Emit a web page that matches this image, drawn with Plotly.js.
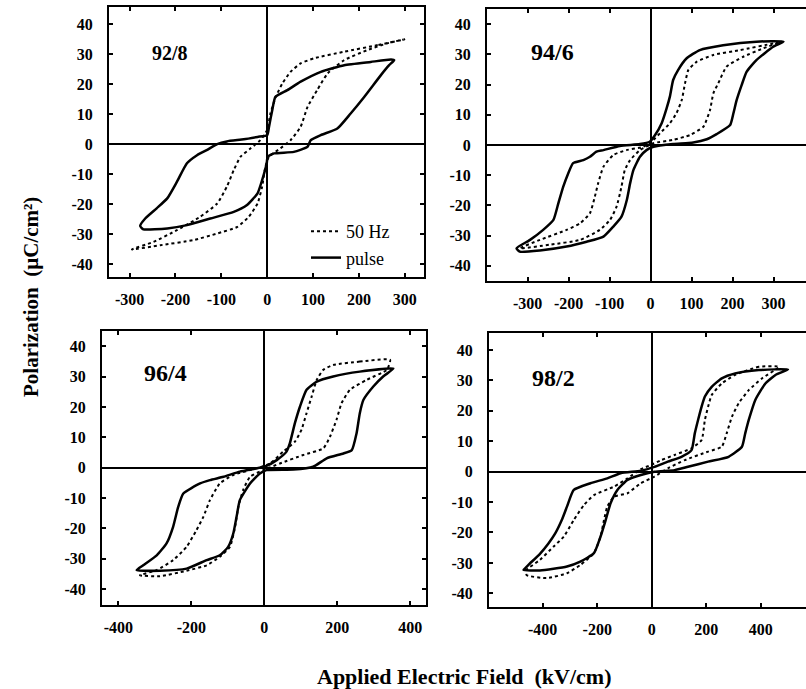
<!DOCTYPE html>
<html><head><meta charset="utf-8">
<script src="https://cdn.plot.ly/plotly-3.0.1.min.js"></script>
<style>html,body{margin:0;padding:0;background:#fff}#chart{width:806px;height:689px}</style>
</head><body><div id="chart"></div>
<script>
// ---------- data ----------
const compositions = ['92/8', '94/6', '96/4', '98/2'];
const seriesNames = ['50 Hz', 'pulse'];
const yTickVals = [-40, -30, -20, -10, 0, 10, 20, 30, 40];
const yTickText = ['-40', '-30', '-20', '-10', '0', '10', '20', '30', '40'];
const xTickVals300 = [-300, -200, -100, 0, 100, 200, 300];
const xTickText300 = ['-300', '-200', '-100', '0', '100', '200', '300'];
const xTickVals400 = [-400, -200, 0, 200, 400];
const xTickText400 = ['-400', '-200', '0', '200', '400'];

// 92/8
const e928_50Hz = [299, 241, 168, 102, 73, 51, 33, 19, 7, 0, -15, -36, -58, -73, -88, -109, -146, -197, -248, -295,
  -233, -161, -109, -65, -40, -21, -11, -4, 4, 29, 51, 73, 88, 109, 132, 168, 218, 262, 299];
const p928_50Hz = [34.9, 33, 30.8, 28.6, 26.9, 24.1, 20.2, 15.8, 10.2, 4.7, 1.3, -1.4, -4.2, -8.7, -14.2, -19.8, -24.2, -28.7, -32.6, -35.1,
  -33.7, -32, -29.8, -27.6, -24.2, -19.8, -14.2, -7.6, -4.2, -1.4, 1.3, 5.8, 12.4, 18, 23.6, 28, 31.3, 33.6, 34.9];
const e928_pulse = [-277, -266, -241, -218, -197, -175, -153, -132, -109, -88, -51, -21, 0, 4, 11, 18, 44, 73, 117, 168, 226, 270, 277,
  266, 248, 212, 182, 153, 117, 95, 88, 58, 15, 1, -1, -11, -21, -44, -73, -124, -175, -218, -270, -277];
const p928_pulse = [-27.3, -24.8, -21.4, -18.1, -12.6, -6.4, -3.7, -2, 0, 0.9, 1.6, 2.4, 3, 5.8, 11.3, 15.8, 18, 20.8, 24.1, 26.3, 27.4, 28.2, 28,
  26.3, 23, 15.8, 10.2, 5.2, 3, 1.3, -0.9, -2.6, -3.1, -4.2, -6.4, -12, -16.4, -20.3, -22.6, -24.8, -27, -28.1, -28.4, -27.3];

// 94/6
const e946_50Hz = [315, 299, 218, 153, 112, 92, 84, 76, 63, 47, 23, 2, -18, -59, -91, -115, -128, -136, -148, -172, -205, -270, -319,
  -246, -172, -124, -99, -83, -71, -63, -50, -26, 7, 55, 96, 129, 145, 153, 165, 185, 226, 275, 315];
const p946_50Hz = [34, 33.6, 31.4, 29.8, 27.5, 24.8, 20.4, 14.9, 10.5, 7.2, 3.9, 1.1, -0.6, -1.7, -3.3, -7.2, -12.7, -17.1, -22.6, -25.9, -28.1, -31.4, -34.2,
  -33, -31.4, -28.1, -24.8, -20.4, -13.8, -8.3, -5, -1.7, 0.6, 1.7, 3.3, 6.1, 11.6, 17.1, 20.4, 25.9, 29.2, 32, 34];
const e946_pulse = [324, 258, 177, 120, 88, 67, 55, 47, 39, 27, 11, -2, -26, -75, -115, -132, -148, -164, -189, -201, -213, -225, -237, -262, -294, -327, -319,
  -270, -205, -156, -115, -91, -71, -58, -50, -42, -26, -10, 7, 55, 104, 137, 161, 194, 202, 210, 222, 234, 258, 299, 324];
const p946_pulse = [34.2, 34.2, 33, 31.4, 28.7, 24.8, 21.5, 16, 12.1, 7.2, 3.3, 1.1, 0.3, -0.3, -1.7, -2.2, -3.9, -5, -6, -9.4, -13.8, -19.3, -24.8, -28.1, -31.4, -34.2, -35.3,
  -34.9, -33.6, -32, -30.3, -27, -23.7, -18.2, -12.7, -8.3, -3.9, -1.7, -0.6, 0.3, 0.8, 1.9, 3.6, 6.6, 10.5, 14.9, 19.8, 24.2, 28.1, 32.5, 34.2];

// 96/4
const e964_50Hz = [345, 262, 189, 162, 144, 130, 116, 102, 84, 52, 16, -21, -85, -122, -149, -167, -186, -213, -250, -295, -341,
  -286, -213, -158, -122, -94, -80, -71, -58, -39, -3, 43, 107, 162, 180, 198, 212, 235, 281, 336, 345];
const p964_50Hz = [35.6, 35, 33.9, 32.3, 29, 23.5, 18, 12.5, 8.6, 5.3, 1.4, -0.2, -2.4, -5.2, -10.7, -16.2, -20.6, -26.1, -30.5, -33.8, -35.5,
  -35.8, -34, -32.2, -29.4, -26.1, -19.5, -12.9, -7.4, -3, -0.8, 1.4, 4.2, 6.4, 10.2, 15.8, 21.3, 25.7, 29, 32.3, 35.6];
const e964_pulse = [354, 262, 189, 144, 116, 98, 84, 70, 61, 34, 6, -21, -67, -112, -149, -176, -222, -236, -250, -268, -295, -332, -350,
  -286, -213, -158, -122, -99, -85, -76, -67, -39, -12, 6, 80, 134, 171, 217, 240, 253, 262, 272, 299, 326, 354];
const p964_pulse = [32.7, 31.7, 30.1, 28.4, 25.7, 20.2, 14.7, 8, 5.3, 2.5, 0.6, -0.2, -1.3, -3, -4.1, -5.2, -8.5, -12.9, -19.5, -25, -28.9, -32.2, -33.8,
  -34, -33.3, -30.5, -28.9, -26.1, -21.7, -16.2, -10.7, -5.2, -1.9, -0.8, -0.6, 0.3, 3.1, 4.7, 5.8, 11.3, 18, 22.4, 26.8, 30.1, 32.7];

// 98/2
const e982_50Hz = [467, 393, 306, 257, 220, 207, 195, 183, 146, 84, 35, -3, -40, -89, -138, -212, -249, -286, -323, -361, -410, -459,
  -459, -385, -311, -262, -212, -188, -175, -163, -138, -89, -40, 10, 59, 121, 207, 257, 275, 294, 319, 356, 405, 467];
const p982_50Hz = [34.5, 34.5, 31.8, 29, 25.2, 21.4, 17, 10.4, 7.7, 5.5, 3.8, 2.2, 0.8, -2.2, -4.9, -7.7, -11, -15.9, -21.4, -24.7, -29, -32.3,
  -34, -35, -33.4, -30.7, -26.8, -21.4, -15.9, -11.5, -8.2, -7.1, -3.8, -1.6, 1.1, 3.8, 6.6, 8.2, 12.6, 18, 22.5, 26.8, 30.7, 34.5];
const e982_pulse = [500, 393, 306, 257, 220, 195, 183, 170, 158, 146, 109, 59, 10, -40, -114, -163, -225, -286, -311, -330, -354, -379, -410, -453, -468,
  -470, -410, -311, -262, -212, -188, -169, -151, -126, -89, -40, 10, 84, 133, 207, 282, 331, 343, 356, 380, 417, 454, 500];
const p982_pulse = [33.6, 33.4, 32.3, 30.7, 27.9, 24.7, 21.4, 17, 12.6, 7.1, 4.9, 3.3, 1.6, 0.3, -0.5, -2.2, -3.8, -6, -11.5, -15.9, -20.3, -23.6, -27, -30.7, -32.1,
  -32.3, -32.5, -31.2, -29.6, -26.8, -21.4, -15.9, -10.4, -6, -2.7, -1.1, 0, 0.5, 1.6, 3.3, 4.9, 8.2, 12.6, 17, 23.6, 29, 31.8, 33.6];

// ---------- build ----------
const W = 806, H = 689;
const panels = [
  {e50: e928_50Hz, p50: p928_50Hz, ep: e928_pulse, pp: p928_pulse, px: [109, 424], py: [7, 277], xr: [-345, 342], yr: [-44.3, 45.7], xv: xTickVals300, xt: xTickText300, left: true, lab: [169.5, 53], labSize: 20},
  {e50: e946_50Hz, p50: p946_50Hz, ep: e946_pulse, pp: p946_pulse, px: [487, 806], py: [9, 281], xr: [-399, 379], yr: [-45, 45], xv: xTickVals300, xt: xTickText300, left: false, lab: [552.5, 52], labSize: 24},
  {e50: e964_50Hz, p50: p964_50Hz, ep: e964_pulse, pp: p964_pulse, px: [102, 426], py: [331, 605], xr: [-445, 443.5], yr: [-45.3, 45.1], xv: xTickVals400, xt: xTickText400, left: true, lab: [165, 372.5], labSize: 24},
  {e50: e982_50Hz, p50: p982_50Hz, ep: e982_pulse, pp: p982_pulse, px: [489, 806], py: [333, 607], xr: [-597, 566], yr: [-44.5, 45.6], xv: xTickVals400, xt: xTickText400, left: false, lab: [553, 377.5], labSize: 24}
];

const serif = '"Liberation Serif", "Times New Roman", serif';
const traces = [];
const layout = {
  width: W, height: H,
  margin: {l: 0, r: 0, t: 0, b: 0},
  paper_bgcolor: '#fff', plot_bgcolor: '#fff',
  showlegend: true,
  legend: {x: 306 / W, y: 1 - 213 / H, xanchor: 'left', yanchor: 'top', bgcolor: 'rgba(0,0,0,0)',
    font: {family: serif, size: 18, color: '#000'}, tracegroupgap: 0, itemwidth: 30},
  annotations: [],
  font: {family: serif, color: '#000'}
};

panels.forEach((pn, i) => {
  const k = i + 1;
  const xa = 'x' + (k === 1 ? '' : k), ya = 'y' + (k === 1 ? '' : k);
  traces.push({x: pn.e50, y: pn.p50, xaxis: xa, yaxis: ya, mode: 'lines', name: seriesNames[0],
    line: {color: '#000', width: 2, dash: 'dot', shape: 'spline', smoothing: 0.5}, showlegend: i === 0, hoverinfo: 'skip'});
  traces.push({x: pn.ep, y: pn.pp, xaxis: xa, yaxis: ya, mode: 'lines', name: seriesNames[1],
    line: {color: '#000', width: 2.5, shape: 'spline', smoothing: 0.5}, showlegend: i === 0, hoverinfo: 'skip'});
  const common = {showline: true, linecolor: '#000', linewidth: 2, ticks: 'inside', ticklen: 4, tickwidth: 2, tickcolor: '#000',
    showgrid: false, zeroline: true, zerolinecolor: '#000', zerolinewidth: 2, fixedrange: true,
    tickfont: {family: serif, size: 16, color: '#000', weight: 'bold'}};
  layout['xaxis' + (k === 1 ? '' : k)] = Object.assign({}, common, {
    domain: [pn.px[0] / W, pn.px[1] / W], range: pn.xr, anchor: ya, tickmode: 'array', tickvals: pn.xv, ticktext: pn.xt,
    mirror: 'ticks', ticklabelstandoff: 7});
  layout['yaxis' + (k === 1 ? '' : k)] = Object.assign({}, common, {
    domain: [1 - pn.py[1] / H, 1 - pn.py[0] / H], range: pn.yr, anchor: xa, tickmode: 'array', tickvals: yTickVals, ticktext: yTickText,
    mirror: pn.left ? 'ticks' : false, ticklabelstandoff: 11});
  layout.annotations.push({xref: 'paper', yref: 'paper', x: pn.lab[0] / W, y: 1 - pn.lab[1] / H, xanchor: 'center', yanchor: 'middle',
    text: compositions[i], showarrow: false, font: {family: serif, size: pn.labSize, color: '#000', weight: 'bold'}});
});

layout.annotations.push({xref: 'paper', yref: 'paper', x: 465 / W, y: 1 - 676 / H, xanchor: 'center', yanchor: 'middle',
  text: 'Applied Electric Field  (kV/cm)', showarrow: false, font: {family: serif, size: 22, color: '#000', weight: 'bold'}});
layout.annotations.push({xref: 'paper', yref: 'paper', x: 31 / W, y: 1 - 297 / H, xanchor: 'center', yanchor: 'middle', textangle: -90,
  text: 'Polarization  (µC/cm²)', showarrow: false, font: {family: serif, size: 21, color: '#000', weight: 'bold'}});

Plotly.newPlot('chart', traces, layout, {staticPlot: true, displayModeBar: false});
</script>
</body></html>
